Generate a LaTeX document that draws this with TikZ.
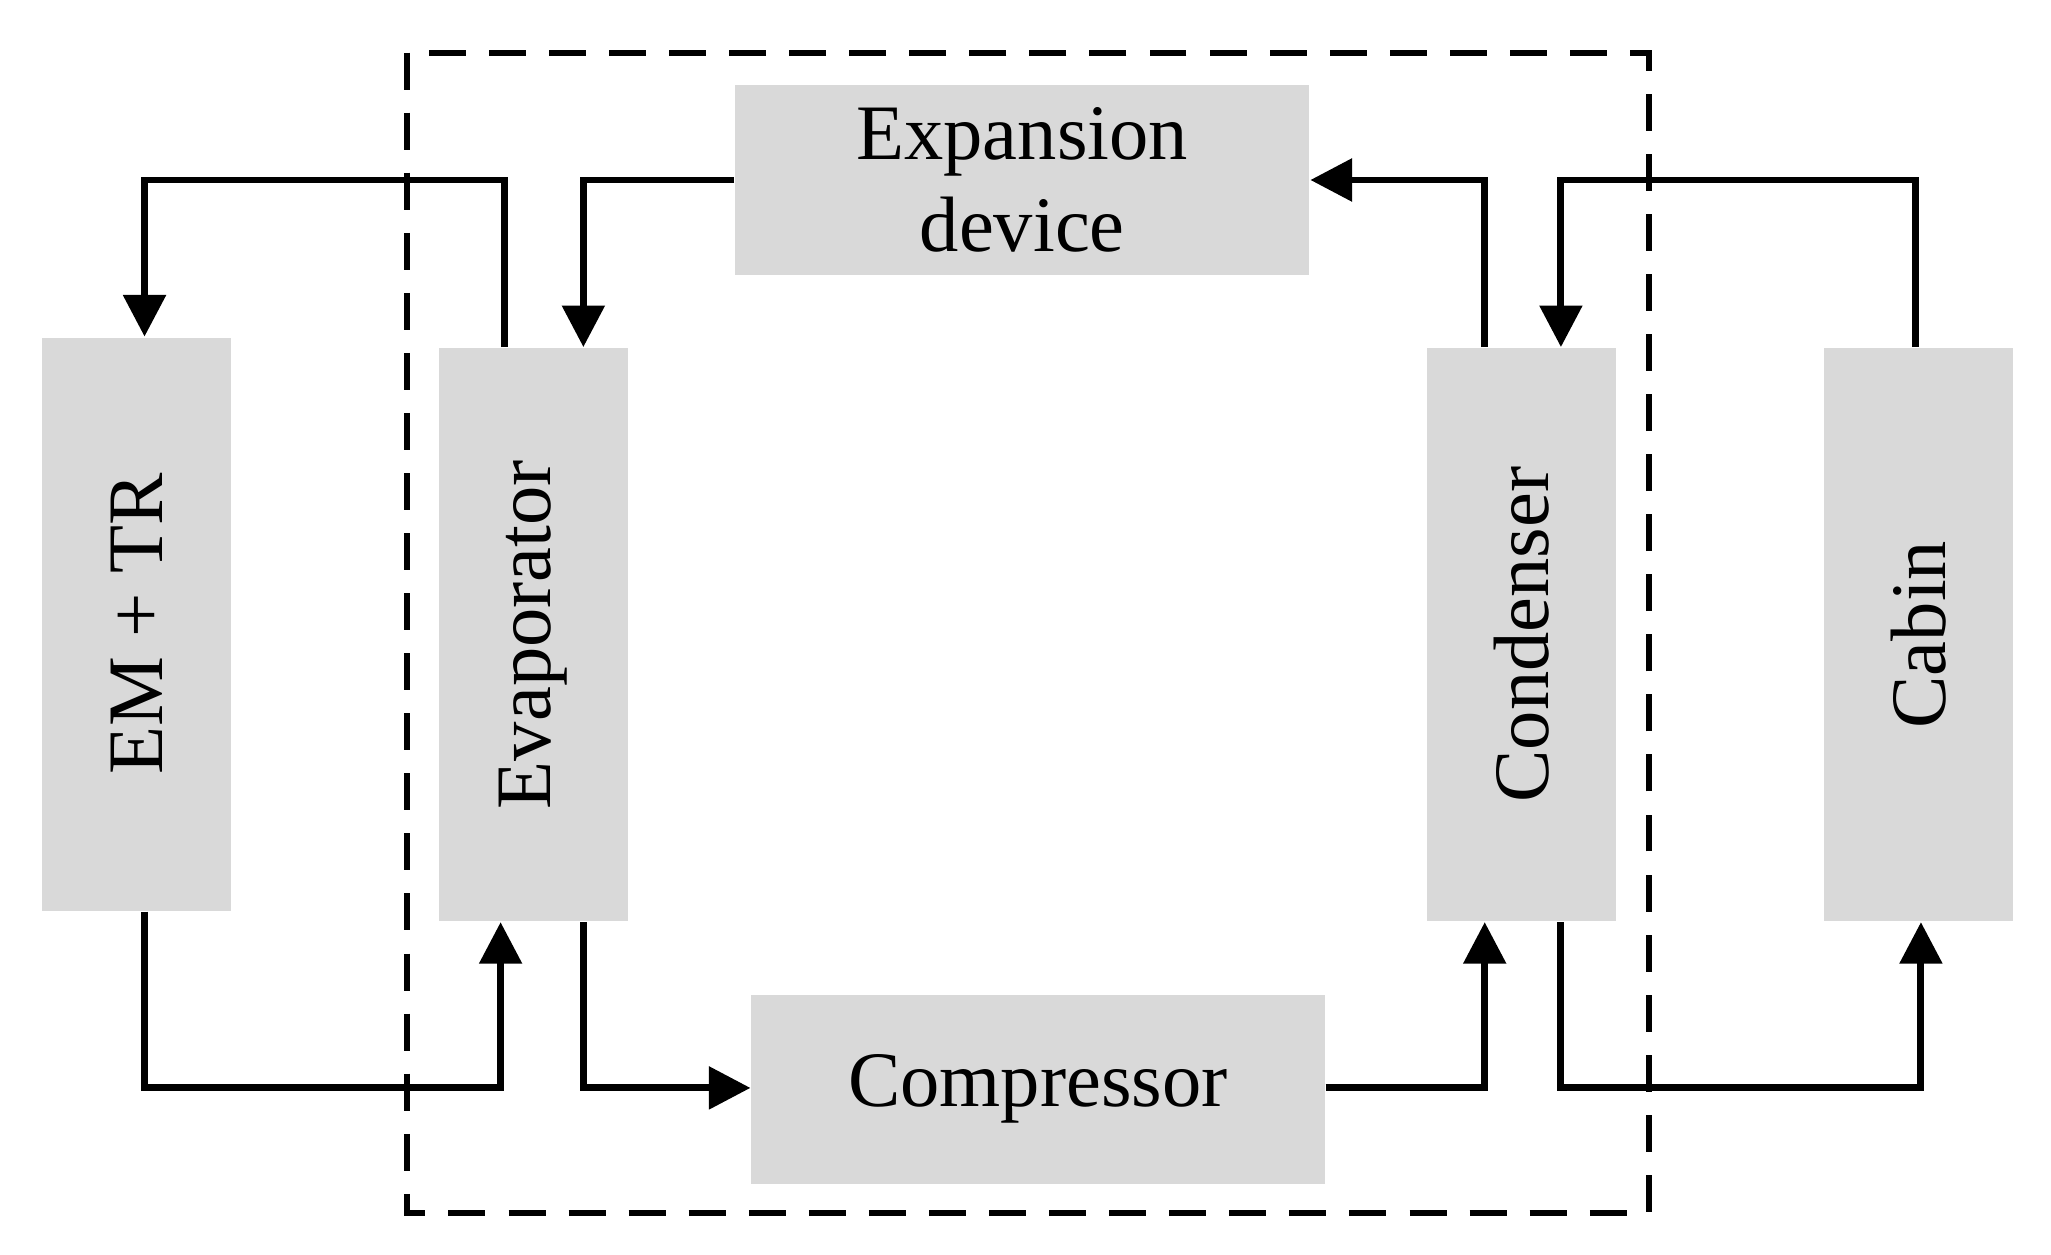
\documentclass[tikz,border=0pt]{standalone}
\usepackage{fontspec}
\setmainfont{Liberation Serif}
\usetikzlibrary{arrows.meta}
\begin{document}
\begin{tikzpicture}[x=0.01cm,y=-0.01cm,
  box/.style={fill=black!15,draw=none,inner sep=0pt,font=\fontsize{17}{20}\selectfont,align=center},
  ln/.style={line width=1.5pt,-{Triangle[length=9pt,width=9pt]}}]
\useasboundingbox (0,0) rectangle (1561,955);
\draw[line width=1.3pt,dash pattern=on 8pt off 5pt] (310,40) rectangle (1255,923);
\node[box,minimum width=4.37cm,minimum height=1.44cm] (exp) at (778,137) {Expansion\\device};
\node[box,minimum width=4.36cm,minimum height=1.44cm] (comp) at (790,829) {Compressor};
\node[box,minimum width=1.44cm,minimum height=4.36cm] (em) at (104,475) {\rotatebox{90}{EM + TR}};
\node[box,minimum width=1.44cm,minimum height=4.36cm] (evap) at (406,483) {\rotatebox{90}{Evaporator}};
\node[box,minimum width=1.44cm,minimum height=4.36cm] (cond) at (1158,483) {\rotatebox{90}{Condenser}};
\node[box,minimum width=1.44cm,minimum height=4.36cm] (cab) at (1460,483) {\rotatebox{90}{Cabin}};
\draw[ln] (evap.north -| 384,0) -- (384,137) -- (110,137) -- (em.north -| 110,0);
\draw[ln] (em.south -| 110,0) -- (110,828) -- (381,828) -- (evap.south -| 381,0);
\draw[ln] (exp.west) -- (444,137) -- (evap.north -| 444,0);
\draw[ln] (evap.south -| 444,0) -- (444,828) -- (comp.west |- 0,828);
\draw[ln] (comp.east |- 0,828) -- (1130,828) -- (cond.south -| 1130,0);
\draw[ln] (cond.north -| 1130,0) -- (1130,137) -- (exp.east);
\draw[ln] (cab.north -| 1458,0) -- (1458,137) -- (1188,137) -- (cond.north -| 1188,0);
\draw[ln] (cond.south -| 1188,0) -- (1188,828) -- (1462,828) -- (cab.south -| 1462,0);
\end{tikzpicture}
\end{document}
